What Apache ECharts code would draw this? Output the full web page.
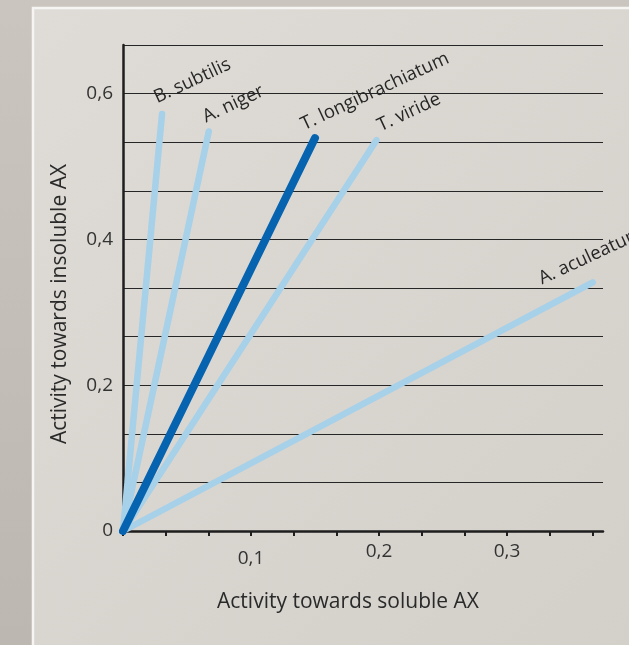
<!DOCTYPE html>
<html><head><meta charset="utf-8">
<script src="https://cdn.jsdelivr.net/npm/echarts@6/dist/echarts.min.js"></script>
<style>html,body{margin:0;padding:0;}#c{width:629px;height:645px;}</style>
</head><body><div id="c"></div>
<script>
// Data
const seriesNames = ['B. subtilis', 'A. niger', 'T. longibrachiatum', 'T. viride', 'A. aculeatum'];
const solubleAX   = [0.0305, 0.067, 0.150, 0.198, 0.367];   // x at line end
const insolubleAX = [0.572, 0.548, 0.539, 0.536, 0.341];    // y at line end
const xTickLabels = ['0,1', '0,2', '0,3'];
const yTickLabels = ['0', '0,2', '0,4', '0,6'];

// Styles (not data)
const lightBlue = '#a7d0e9';
const darkBlue = '#0563b0';
const fontFam = '"Open Sans", "Noto Sans", sans-serif';
const labelRot = 25;
// desired screen offsets of label box bottom-left from line end
const labelScreenOffsets = [[-3, -7], [-1, -5], [-9, -4], [6, -5], [-49, 6]];
function toLocal(o) {
  const a = labelRot * Math.PI / 180, c = Math.cos(a), s = Math.sin(a);
  return [o[0] * c - o[1] * s, o[0] * s + o[1] * c];
}

const chart = echarts.init(document.getElementById('c'), null, {renderer: 'canvas'});

const series = seriesNames.map((name, i) => ({
  name: name,
  type: 'line',
  symbol: 'circle',
  symbolSize: 1,
  showSymbol: true,
  itemStyle: {color: 'rgba(0,0,0,0)'},
  lineStyle: {
    color: i === 2 ? darkBlue : lightBlue,
    width: i === 2 ? 8 : 6.5,
    cap: 'round'
  },
  z: i === 2 ? 5 : 3,
  silent: true,
  animation: false,
  data: [
    [0, 0],
    {
      value: [solubleAX[i], insolubleAX[i]],
      label: {
        show: true,
        formatter: name,
        position: 'inside',
        align: 'left',
        verticalAlign: 'bottom',
        rotate: labelRot,
        offset: toLocal(labelScreenOffsets[i]),
        color: '#262626',
        fontSize: 18.5,
        fontFamily: fontFam
      }
    }
  ]
}));

const xTickVals = [];
for (let k = 0; k <= 11; k++) xTickVals.push(k / 30);

chart.setOption({
  animation: false,
  backgroundColor: 'transparent',
  graphic: [
    {type: 'rect', z: -10, shape: {x: 0, y: 0, width: 629, height: 645},
     style: {fill: new echarts.graphic.LinearGradient(0, 0, 0, 1, [{offset: 0, color: '#cac5be'}, {offset: 1, color: '#bcb7b0'}])}, silent: true},
    {type: 'rect', z: -9, shape: {x: 33, y: 8, width: 610, height: 650},
     style: {fill: new echarts.graphic.LinearGradient(0, 0, 1, 1, [{offset: 0, color: '#dfdcd7'}, {offset: 1, color: '#d3cfc9'}]), stroke: '#f6f5f3', lineWidth: 2.5}, silent: true}
  ],
  grid: {left: 123, top: 45, right: 26, bottom: 114, containLabel: false},
  xAxis: {
    type: 'value',
    min: 0,
    max: 0.375,
    interval: 1 / 30,
    name: 'Activity towards soluble AX',
    nameLocation: 'middle',
    nameGap: 61,
    nameTextStyle: {color: '#2a2a2a', fontSize: 21, fontFamily: fontFam, padding: [0, 30, 0, 0]},
    axisLine: {show: true, onZero: false, lineStyle: {color: '#1e1e1e', width: 2.5}},
    axisTick: {show: true, inside: false, length: 5, lineStyle: {color: '#1e1e1e', width: 2}, customValues: xTickVals},
    axisLabel: {
      show: true,
      customValues: [0.1, 0.2, 0.3],
      margin: 11,
      color: '#333',
      fontSize: 19,
      fontFamily: fontFam,
      formatter: function (v) {
        const idx = Math.round(v * 10) - 1;
        const t = xTickLabels[idx] || '';
        return idx === 0 ? '{low|' + t + '}' : t;
      },
      rich: {low: {color: '#333', fontSize: 19, fontFamily: fontFam, padding: [7, 0, 0, 0]}}
    },
    splitLine: {show: false}
  },
  yAxis: {
    type: 'value',
    min: 0,
    max: 2 / 3,
    interval: 1 / 15,
    name: 'Activity towards insoluble AX',
    nameLocation: 'middle',
    nameGap: 52,
    nameRotate: 90,
    nameTextStyle: {color: '#2a2a2a', fontSize: 21, fontFamily: fontFam, padding: [0, 32, 0, 0]},
    axisLine: {show: true, lineStyle: {color: '#1e1e1e', width: 2.5}},
    axisTick: {show: false},
    axisLabel: {
      show: true,
      margin: 10,
      color: '#333',
      fontSize: 19,
      fontFamily: fontFam,
      formatter: function (v) {
        const k = v * 5;
        if (Math.abs(k - Math.round(k)) < 1e-6) {
          return yTickLabels[Math.round(k)] || '';
        }
        return '';
      }
    },
    splitLine: {show: true, lineStyle: {color: '#262626', width: 1.2}}
  },
  series: series
});
</script>
</body></html>
